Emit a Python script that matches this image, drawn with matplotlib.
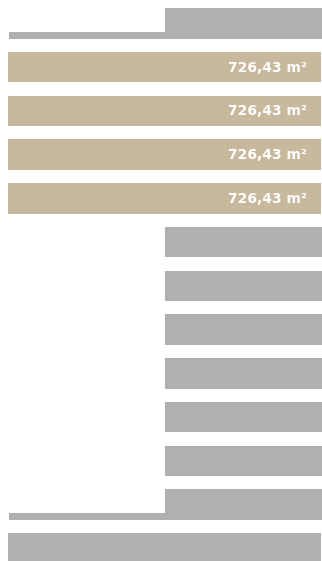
import matplotlib
matplotlib.use("Agg")
import matplotlib.pyplot as plt

# rows from top to bottom
row_kinds = ["step", "unit", "unit", "unit", "unit",
             "block", "block", "block", "block", "block", "block",
             "step", "full"]
row_labels = ["", "726,43 m²", "726,43 m²", "726,43 m²", "726,43 m²",
              "", "", "", "", "", "", "", ""]

TAN = "#c8b89d"
GRAY = "#b0b0af"

W, H = 322, 561
pitch = 43.75          # px per row
bar_h = 0.70           # in rows
x_left, x_right = 8, 321
x_mid = 165

fig = plt.figure(figsize=(W / 100, H / 100), dpi=100)
ax = fig.add_axes([0, 0, 1, 1])
ax.set_xlim(0, W)
top = -bar_h / 2 - 8 / pitch
ax.set_ylim(top + H / pitch, top)
ax.axis("off")

for i, (kind, label) in enumerate(zip(row_kinds, row_labels)):
    if kind == "unit":
        ax.barh(i, x_right - x_left, left=x_left, height=bar_h, color=TAN, linewidth=0)
        ax.text(307, i + 0.01, label, ha="right", va="center", color="white",
                fontsize=10, fontweight="bold", family="DejaVu Sans")
    elif kind == "full":
        ax.barh(i, x_right - x_left, left=x_left, height=bar_h, color=GRAY, linewidth=0)
    else:
        ax.barh(i, W - x_mid, left=x_mid, height=bar_h, color=GRAY, linewidth=0)
        if kind == "step":
            strip = 7 / pitch
            ax.barh(i + bar_h / 2 - strip / 2, x_mid - 9, left=9, height=strip,
                    color=GRAY, linewidth=0)

fig.savefig("out.png", dpi=100, facecolor="white")
